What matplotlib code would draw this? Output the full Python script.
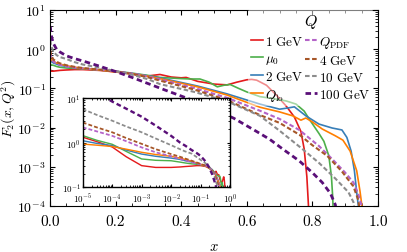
import numpy as np
import matplotlib
matplotlib.use("Agg")
import matplotlib.pyplot as plt
from matplotlib.ticker import LogLocator, MultipleLocator, NullFormatter

plt.rcParams['font.family'] = 'serif'
plt.rcParams['font.serif'] = ['cmr10', 'DejaVu Serif']
plt.rcParams['mathtext.fontset'] = 'cm'
plt.rcParams['axes.formatter.use_mathtext'] = True
plt.rcParams['axes.unicode_minus'] = True

# ---- data: x values and log10(F2) ----
x_small = [1e-5, 3e-5, 1e-4, 3e-4, 1e-3, 3e-3, 0.01, 0.02, 0.03, 0.05, 0.075, 0.1, 0.15, 0.2, 0.25]

x_1gev = x_small + [0.29, 0.32, 0.335, 0.37, 0.40, 0.415, 0.45, 0.5, 0.54, 0.57, 0.60, 0.615, 0.63, 0.66,
                    0.69, 0.72, 0.745, 0.765, 0.775, 0.783, 0.788, 0.79]
lf_1gev = [0.12, 0.02, -0.10, -0.32, -0.52, -0.56, -0.56, -0.55, -0.54, -0.53, -0.52, -0.52, -0.54, -0.58, -0.63,
           -0.69, -0.66, -0.645, -0.71, -0.73, -0.72, -0.82, -0.89, -0.91, -0.84, -0.78, -0.77, -0.79, -0.92,
           -1.17, -1.45, -1.73, -2.1, -2.55, -3.25, -4.0, -4.3]

x_mu0 = x_small + [0.3, 0.335, 0.4, 0.43, 0.457, 0.485, 0.51, 0.53, 0.549, 0.575, 0.60, 0.64, 0.68, 0.72, 0.75,
                   0.775, 0.79, 0.82, 0.835, 0.85, 0.858, 0.862, 0.864]
lf_mu0 = [0.155, 0.05, -0.04, -0.20, -0.37, -0.40, -0.41, -0.44, -0.46, -0.48, -0.49, -0.50, -0.53, -0.56, -0.61,
          -0.67, -0.72, -0.75, -0.76, -0.76, -0.84, -0.96, -0.92, -0.90, -1.0, -1.09, -1.21, -1.26, -1.32, -1.40,
          -1.58, -1.78, -2.15, -2.35, -2.72, -3.25, -3.8, -4.3]

x_2gev = x_small + [0.3, 0.335, 0.45, 0.54, 0.64, 0.70, 0.725, 0.745, 0.78, 0.82, 0.86, 0.89, 0.905, 0.918,
                    0.928, 0.935, 0.94, 0.943]
lf_2gev = [0.04, -0.02, -0.07, -0.17, -0.26, -0.31, -0.35, -0.38, -0.41, -0.44, -0.47, -0.49, -0.53, -0.57, -0.62,
           -0.68, -0.73, -0.94, -1.14, -1.40, -1.53, -1.50, -1.47, -1.70, -1.91, -2.01, -2.06, -2.25, -2.6,
           -3.1, -3.65, -4.0, -4.3]

x_qlo = x_small + [0.3, 0.335, 0.45, 0.54, 0.64, 0.70, 0.74, 0.765, 0.78, 0.80, 0.83, 0.87, 0.893, 0.915, 0.935,
                   0.945, 0.951, 0.954]
lf_qlo = [-0.035, -0.06, -0.09, -0.15, -0.22, -0.27, -0.31, -0.35, -0.38, -0.42, -0.46, -0.49, -0.53, -0.58, -0.63,
          -0.69, -0.75, -0.96, -1.17, -1.48, -1.60, -1.70, -1.81, -1.755, -1.857, -2.036, -2.21, -2.32, -2.6,
          -3.1, -3.62, -4.0, -4.3]

x_qpdf = x_small + [0.3, 0.335, 0.44, 0.54, 0.64, 0.70, 0.76, 0.82, 0.86, 0.90, 0.925, 0.94, 0.95, 0.955]
lf_qpdf = [0.34, 0.25, 0.15, 0.03, -0.11, -0.22, -0.31, -0.37, -0.40, -0.44, -0.47, -0.49, -0.52, -0.56, -0.62,
           -0.70, -0.77, -0.99, -1.24, -1.57, -1.78, -2.06, -2.47, -2.80, -3.15, -3.40, -3.70, -4.0, -4.3]

x_4gev = x_small + [0.3, 0.335, 0.44, 0.54, 0.64, 0.70, 0.76, 0.80, 0.845, 0.89, 0.925, 0.94, 0.947]
lf_4gev = [0.45, 0.34, 0.23, 0.10, -0.03, -0.15, -0.26, -0.32, -0.36, -0.41, -0.45, -0.48, -0.52, -0.57, -0.63,
           -0.72, -0.80, -1.03, -1.30, -1.68, -1.88, -2.18, -2.45, -2.72, -3.12, -3.5, -3.85, -4.3]

x_10gev = x_small + [0.3, 0.335, 0.44, 0.54, 0.64, 0.70, 0.77, 0.82, 0.87, 0.91, 0.925, 0.932]
lf_10gev = [0.75, 0.62, 0.49, 0.36, 0.23, 0.09, -0.06, -0.15, -0.20, -0.25, -0.33, -0.39, -0.47, -0.56, -0.65,
            -0.77, -0.89, -1.09, -1.33, -1.70, -2.08, -2.55, -2.9, -3.3, -3.65, -3.9, -4.3]

x_100gev = x_small + [0.3, 0.35, 0.45, 0.56, 0.63, 0.67, 0.71, 0.76, 0.80, 0.83, 0.855, 0.87, 0.875]
lf_100gev = [1.30, 1.12, 0.92, 0.76, 0.58, 0.38, 0.15, 0.0, -0.07, -0.17, -0.24, -0.30, -0.43, -0.57, -0.72,
             -0.88, -1.04, -1.35, -1.76, -2.1, -2.3, -2.55, -2.85, -3.15, -3.4, -3.68, -3.97, -4.3]

labels = [r"$1\ \mathrm{GeV}$", r"$\mu_0$", r"$2\ \mathrm{GeV}$", r"$Q_{\mathrm{lo}}$",
          r"$Q_{\mathrm{PDF}}$", r"$4\ \mathrm{GeV}$", r"$10\ \mathrm{GeV}$", r"$100\ \mathrm{GeV}$"]
xs = [x_1gev, x_mu0, x_2gev, x_qlo, x_qpdf, x_4gev, x_10gev, x_100gev]
lfs = [lf_1gev, lf_mu0, lf_2gev, lf_qlo, lf_qpdf, lf_4gev, lf_10gev, lf_100gev]

colors = ['#e41a1c', '#4daf4a', '#377eb8', '#ff7f00', '#b463c8', '#a65628', '#8c8c8c', '#5a0f78']
styles = ['-', '-', '-', '-', (0, (2.2, 1.2)), (0, (2.2, 1.2)), (0, (2.2, 1.2)), (0, (2.0, 1.3))]
widths = [1.2, 1.2, 1.2, 1.2, 1.5, 1.5, 1.5, 2.0]

fig = plt.figure(figsize=(4.07, 2.53), dpi=100)
ax = fig.add_axes([0.1229, 0.1818, 0.8059, 0.7747])
ins = fig.add_axes([0.2032, 0.2569, 0.3619, 0.3518])

for xv, lv, c, s, w, lab in zip(xs, lfs, colors, styles, widths, labels):
    xa = np.array(xv)
    fa = 10.0 ** np.array(lv)
    m = xa >= 1e-3
    ax.plot(xa[m], fa[m], color=c, ls=s, lw=w, label=lab)
    ins.plot(xa, fa, color=c, ls=s, lw=w * 0.85)

ax.set_yscale('log')
ax.set_xlim(0, 1)
ax.set_ylim(1e-4, 10)
ax.xaxis.set_major_locator(MultipleLocator(0.2))
ax.xaxis.set_minor_locator(MultipleLocator(0.05))
ax.yaxis.set_major_locator(LogLocator(base=10, numticks=10))
ax.yaxis.set_minor_locator(LogLocator(base=10, subs=np.arange(2, 10), numticks=20))
ax.yaxis.set_minor_formatter(NullFormatter())
ax.tick_params(which='both', direction='in', top=True, right=True)
ax.tick_params(axis='x', which='major', pad=6, labelsize=11)
ax.tick_params(axis='y', which='major', pad=3, labelsize=10)
ax.tick_params(which='major', length=3.5)
ax.tick_params(which='minor', length=2)
ax.set_xticks([0, 0.2, 0.4, 0.6, 0.8, 1.0])
ax.set_xticklabels(['0.0', '0.2', '0.4', '0.6', '0.8', '1.0'])
ax.set_xlabel(r"$x$", fontsize=10.5, labelpad=8)
ax.set_ylabel(r"$F_2(x,Q^2)$", fontsize=10)
ax.yaxis.set_label_coords(-0.098, 0.5)

leg = ax.legend(ncol=2, title=r"$Q$", loc='upper right', bbox_to_anchor=(0.99, 1.01),
                fontsize=9.5, title_fontsize=11.5, frameon=True, framealpha=0.5, edgecolor='none',
                handlelength=0.95, handletextpad=0.15, columnspacing=0.1, labelspacing=0.3,
                borderpad=0.2, borderaxespad=0.1)
leg.get_frame().set_linewidth(0)

ins.set_xscale('log')
ins.set_yscale('log')
ins.set_xlim(1e-5, 1)
ins.set_ylim(0.1, 10)
ins.xaxis.set_major_locator(LogLocator(base=10, numticks=10))
ins.xaxis.set_minor_locator(LogLocator(base=10, subs=np.arange(2, 10), numticks=20))
ins.xaxis.set_minor_formatter(NullFormatter())
ins.yaxis.set_major_locator(LogLocator(base=10, numticks=10))
ins.yaxis.set_minor_locator(LogLocator(base=10, subs=np.arange(2, 10), numticks=20))
ins.yaxis.set_minor_formatter(NullFormatter())
ins.tick_params(which='both', direction='in', top=True, right=True, labelsize=6.5)
ins.tick_params(axis='x', which='major', pad=3.5)
ins.tick_params(axis='y', which='major', pad=1.5)
ins.tick_params(which='major', length=2.5)
ins.tick_params(which='minor', length=1.5)
for sp in ins.spines.values():
    sp.set_linewidth(1.0)

fig.savefig("out.png", dpi=100)
